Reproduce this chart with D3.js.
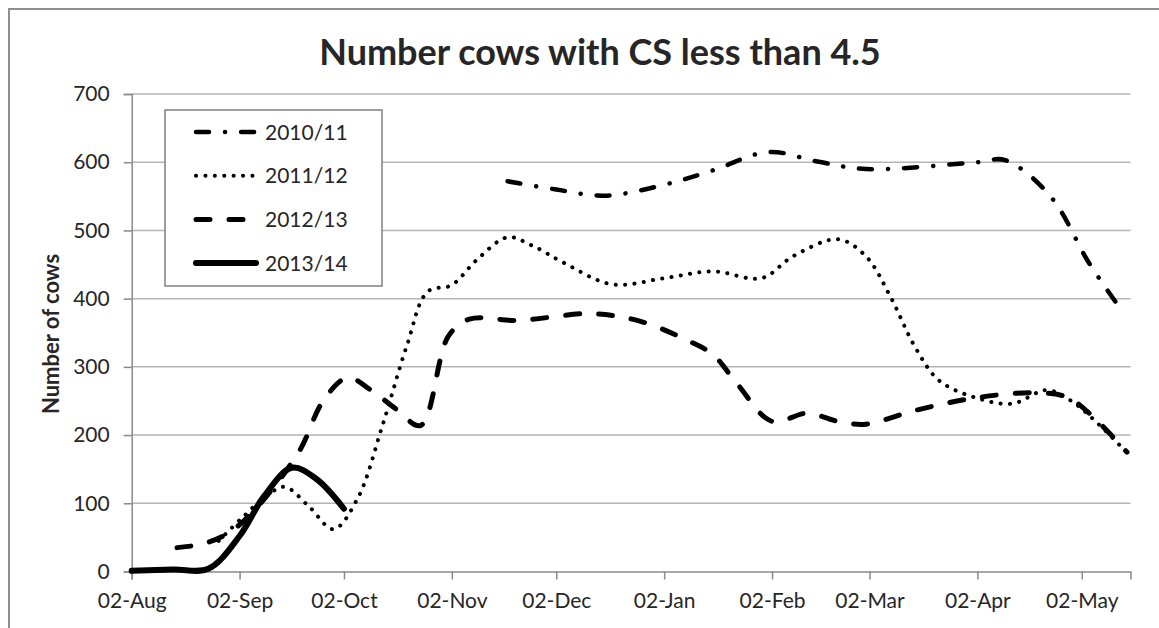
<!DOCTYPE html>
<html>
<head>
<meta charset="utf-8">
<script src="https://cdn.jsdelivr.net/npm/d3@7"></script>
<style>
  body { margin: 0; background: #fff; }
  text { font-family: Lato, "Open Sans", sans-serif; fill: #262626; }
</style>
</head>
<body>
<div id="chart"></div>
<script>
// Season data (dates mapped onto one Aug-May season)
const seasons = ["2010/11", "2011/12", "2012/13", "2013/14"];

const dates1011 = ["2013-11-18", "2013-12-02", "2013-12-16", "2014-01-02", "2014-01-16", "2014-02-01", "2014-02-15", "2014-03-01", "2014-04-02", "2014-04-10", "2014-04-23", "2014-05-04", "2014-05-13"];
const values1011 = [572, 560, 551, 567, 588, 615, 601, 590, 600, 603, 550, 453, 386];

const dates1112 = ["2013-08-27", "2013-09-03", "2013-09-10", "2013-09-15", "2013-09-22", "2013-09-29", "2013-10-06", "2013-10-13", "2013-10-20", "2013-10-26", "2013-11-02", "2013-11-09", "2013-11-18", "2013-11-25", "2013-12-04", "2013-12-18", "2014-01-02", "2014-01-16", "2014-01-30", "2014-02-08", "2014-02-21", "2014-03-01", "2014-03-08", "2014-03-15", "2014-03-22", "2014-04-02", "2014-04-12", "2014-04-22", "2014-04-29", "2014-05-06", "2014-05-15"];
const values1112 = [45, 80, 112, 124, 95, 62, 108, 213, 330, 410, 420, 456, 490, 478, 453, 421, 430, 440, 430, 462, 487, 462, 403, 330, 280, 254, 246, 266, 250, 220, 174];

const dates1213 = ["2013-08-15", "2013-08-22", "2013-08-29", "2013-09-05", "2013-09-19", "2013-09-26", "2013-10-03", "2013-10-10", "2013-10-17", "2013-10-24", "2013-11-01", "2013-11-07", "2013-11-21", "2013-12-12", "2013-12-26", "2014-01-09", "2014-01-16", "2014-01-23", "2014-02-02", "2014-02-12", "2014-02-21", "2014-03-01", "2014-03-15", "2014-04-02", "2014-04-19", "2014-04-28", "2014-05-05", "2014-05-15"];
const values1213 = [35, 40, 54, 83, 175, 250, 284, 265, 238, 214, 345, 370, 368, 378, 367, 338, 318, 275, 220, 232, 220, 216, 236, 255, 262, 255, 228, 175];

const dates1314 = ["2013-08-02", "2013-08-14", "2013-08-24", "2013-09-02", "2013-09-09", "2013-09-17", "2013-09-24", "2013-10-02"];
const values1314 = [1, 3, 4, 52, 110, 152, 136, 92];

const xTickDates = ["2013-08-02", "2013-09-02", "2013-10-02", "2013-11-02", "2013-12-02", "2014-01-02", "2014-02-02", "2014-03-02", "2014-04-02", "2014-05-02"];
const yTicks = [0, 100, 200, 300, 400, 500, 600, 700];

// Dimensions For SVG Element
let w = 1159, h = 628;
let padLeft = 131.7, padRight = 1130.5, padTop = 94, padBottom = 571.5;

let parse = d3.timeParse("%Y-%m-%d");
let svg = d3.select("#chart").append("svg").attr("width", w).attr("height", h);
svg.append("rect").attr("width", w).attr("height", h).attr("fill", "#fff");

// Chart area border (runs off the right and bottom edge)
svg.append("rect").attr("x", 9).attr("y", 9).attr("width", 1300).attr("height", 800)
  .attr("fill", "none").attr("stroke", "#8f8f8f").attr("stroke-width", 2);

// Scales
let xScale = d3.scaleTime().domain([parse("2013-08-02"), parse("2014-05-16")]).range([padLeft, padRight]);
let yScale = d3.scaleLinear().domain([0, 700]).range([padBottom, padTop]);

// Gridlines
svg.append("g").selectAll("line").data(yTicks.filter(d => d > 0)).join("line")
  .attr("x1", padLeft).attr("x2", padRight)
  .attr("y1", d => yScale(d)).attr("y2", d => yScale(d))
  .attr("stroke", "#b5b5b5").attr("stroke-width", 1.5);

// Axes
let xAxis = d3.axisBottom(xScale).tickValues(xTickDates.map(parse)).tickFormat(d3.timeFormat("%d-%b")).tickSize(8).tickPadding(14);
let yAxis = d3.axisLeft(yScale).tickValues(yTicks).tickSize(8).tickPadding(14);

let gx = svg.append("g").attr("transform", "translate(0," + padBottom + ")").call(xAxis);
let gy = svg.append("g").attr("transform", "translate(" + padLeft + ",0)").call(yAxis);
[gx, gy].forEach(g => {
  g.select(".domain").attr("stroke", "#8a8a8a").attr("stroke-width", 1.5);
  g.selectAll(".tick line").attr("stroke", "#8a8a8a").attr("stroke-width", 1.5);
  g.selectAll(".tick text").style("font-family", "Lato").style("font-size", "21px").attr("fill", "#262626");
});

// Series styles
let styles = {
  "2010/11": { width: 4.5, dash: "13,16,0.1,16" },
  "2011/12": { width: 4, dash: "0.1,9.3" },
  "2012/13": { width: 5, dash: "14,19" },
  "2013/14": { width: 6, dash: null }
};
let seriesData = {
  "2010/11": dates1011.map((d, i) => [parse(d), values1011[i]]),
  "2011/12": dates1112.map((d, i) => [parse(d), values1112[i]]),
  "2012/13": dates1213.map((d, i) => [parse(d), values1213[i]]),
  "2013/14": dates1314.map((d, i) => [parse(d), values1314[i]])
};

// Draw Lines
let line = d3.line().x(d => xScale(d[0])).y(d => yScale(d[1])).curve(d3.curveCatmullRom.alpha(0.5));
seasons.forEach(s => {
  svg.append("path").datum(seriesData[s]).attr("d", line)
    .attr("fill", "none").attr("stroke", "#000")
    .attr("stroke-width", styles[s].width)
    .attr("stroke-linecap", "round").attr("stroke-linejoin", "round")
    .attr("stroke-dasharray", styles[s].dash);
});

// Legend
let lg = svg.append("g");
lg.append("rect").attr("x", 165).attr("y", 110).attr("width", 217).attr("height", 176)
  .attr("fill", "#fff").attr("stroke", "#7f7f7f").attr("stroke-width", 1.5);
seasons.forEach((s, i) => {
  let yy = 132 + i * 43.7;
  lg.append("line").attr("x1", 196).attr("x2", 256).attr("y1", yy).attr("y2", yy)
    .attr("stroke", "#000").attr("stroke-width", styles[s].width)
    .attr("stroke-linecap", "round").attr("stroke-dasharray", styles[s].dash);
  lg.append("text").attr("x", 265).attr("y", yy).attr("dy", "0.36em")
    .style("font-size", "21px").text(s);
});

// Title
svg.append("text").attr("x", 600).attr("y", 65).attr("text-anchor", "middle")
  .style("font-size", "36px").style("font-weight", "bold").attr("fill", "#000")
  .text("Number cows with CS less than 4.5");

// Y axis title
svg.append("text").attr("transform", "translate(51,334) rotate(-90)").attr("text-anchor", "middle")
  .attr("dy", "0.36em").style("font-size", "22px").style("font-weight", "bold").attr("fill", "#000")
  .text("Number of cows");
</script>
</body>
</html>
